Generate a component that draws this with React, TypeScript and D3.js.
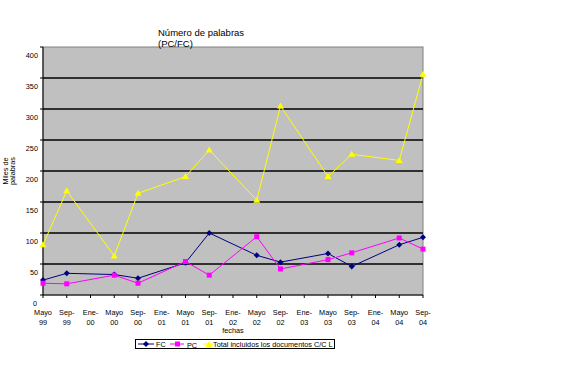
import React from "react";
import * as d3 from "d3";

const categories = [
  ["Mayo", "99"], ["Sep-", "99"], ["Ene-", "00"], ["Mayo", "00"], ["Sep-", "00"],
  ["Ene-", "01"], ["Mayo", "01"], ["Sep-", "01"], ["Ene-", "02"], ["Mayo", "02"],
  ["Sep-", "02"], ["Ene-", "03"], ["Mayo", "03"], ["Sep-", "03"], ["Ene-", "04"],
  ["Mayo", "04"], ["Sep-", "04"],
];

const fcValues: (number | null)[] = [24, 35, null, 33, 27, null, 52, 100, null, 64, 53, null, 67, 46, null, 81, 93];
const pcValues: (number | null)[] = [19, 18, null, 32, 19, null, 54, 32, null, 94, 42, null, 57, 68, null, 92, 74];
const totalValues: (number | null)[] = [81, 168, null, 63, 164, null, 191, 234, null, 153, 305, null, 191, 227, null, 217, 356];

const yTicks = [0, 50, 100, 150, 200, 250, 300, 350, 400];

const FONT = "'Liberation Sans', Arial, sans-serif";

export default function App() {
  const W = 578, H = 384;
  const left = 43, right = 423, top = 47, bottom = 295;
  const x = d3.scaleLinear().domain([0, categories.length - 1]).range([left, right]);
  const y = d3.scaleLinear().domain([0, 400]).range([bottom, top]);

  const series = [
    { name: "FC", values: fcValues, color: "#000080", marker: "diamond" },
    { name: "PC", values: pcValues, color: "#FF00FF", marker: "square" },
    { name: "Total incluidos los documentos C/C L", values: totalValues, color: "#FFFF00", marker: "triangle" },
  ];

  const line = d3.line<[number, number]>().x(d => x(d[0])).y(d => y(d[1]));

  const marker = (type: string, cx: number, cy: number, color: string, key: string) => {
    if (type === "diamond") {
      const s = 3;
      return <path key={key} d={`M${cx},${cy - s}L${cx + s},${cy}L${cx},${cy + s}L${cx - s},${cy}Z`} fill={color} />;
    }
    if (type === "square") {
      return <rect key={key} x={cx - 2.5} y={cy - 2.5} width={5} height={5} fill={color} />;
    }
    return <path key={key} d={`M${cx},${cy - 3.5}L${cx + 3.5},${cy + 2.5}L${cx - 3.5},${cy + 2.5}Z`} fill={color} />;
  };

  return (
    <svg width={W} height={H} style={{ position: "absolute", left: 0, top: 0, background: "#fff" }} fontFamily={FONT}>
      <rect x={left} y={top} width={right - left} height={bottom - top} fill="#C0C0C0" stroke="#808080" strokeWidth={1} />
      {yTicks.filter(t => t > 0 && t < 400).map(t => (
        <line key={"g" + t} x1={left} x2={right} y1={y(t)} y2={y(t)} stroke="#000" strokeWidth={1.3} />
      ))}
      {/* axes */}
      <line x1={left} x2={left} y1={top} y2={bottom} stroke="#000" strokeWidth={1} />
      <line x1={left} x2={right} y1={bottom} y2={bottom} stroke="#000" strokeWidth={1} />
      {yTicks.map(t => (
        <g key={"yt" + t}>
          <line x1={left - 3} x2={left} y1={y(t)} y2={y(t)} stroke="#000" />
          <text x={t === 0 ? 37 : 38} y={y(t) + 11} fontSize={7.3} textAnchor="end">{t}</text>
        </g>
      ))}
      {categories.map((c, i) => (
        <g key={"xt" + i}>
          <line x1={x(i)} x2={x(i)} y1={bottom} y2={bottom + 3} stroke="#000" />
          <text x={x(i)} y={315} fontSize={7.3} textAnchor="middle">{c[0]}</text>
          <text x={x(i)} y={325} fontSize={7.3} textAnchor="middle">{c[1]}</text>
        </g>
      ))}
      {series.map(s => {
        const pts = s.values.map((v, i) => [i, v] as [number, number | null]).filter(d => d[1] !== null) as [number, number][];
        return (
          <g key={s.name}>
            <path d={line(pts) || ""} fill="none" stroke={s.color} strokeWidth={1} />
            {pts.map((p, j) => marker(s.marker, x(p[0]), y(p[1]), s.color, s.name + j))}
          </g>
        );
      })}
      {/* title */}
      <text x={158} y={36} fontSize={9.5}>Número de palabras</text>
      <text x={158} y={47} fontSize={9.5}>(PC/FC)</text>
      {/* y axis title */}
      <text transform="translate(8,171) rotate(-90)" fontSize={7.3} textAnchor="middle">Miles de</text>
      <text transform="translate(15,171) rotate(-90)" fontSize={7.3} textAnchor="middle">palabras</text>
      <text x={233} y={333} fontSize={7.3} textAnchor="middle">fechas</text>
      {/* legend */}
      <rect x={135.5} y={339.5} width={199} height={9} fill="#fff" stroke="#000" strokeWidth={1} />
      <line x1={138} x2={154} y1={344} y2={344} stroke="#000080" />
      {marker("diamond", 146, 344, "#000080", "l1")}
      <text x={156} y={347} fontSize={7.3}>FC</text>
      <line x1={170} x2={184} y1={344} y2={344} stroke="#FF00FF" />
      {marker("square", 177.5, 344, "#FF00FF", "l2")}
      <text x={187} y={347.5} fontSize={7.3}>PC</text>
      <line x1={203} x2={214} y1={344} y2={344} stroke="#FFFF00" />
      {marker("triangle", 209, 344.5, "#FFFF00", "l3")}
      <text x={213} y={347} fontSize={7.3}>Total incluidos los documentos C/C L</text>
    </svg>
  );
}
